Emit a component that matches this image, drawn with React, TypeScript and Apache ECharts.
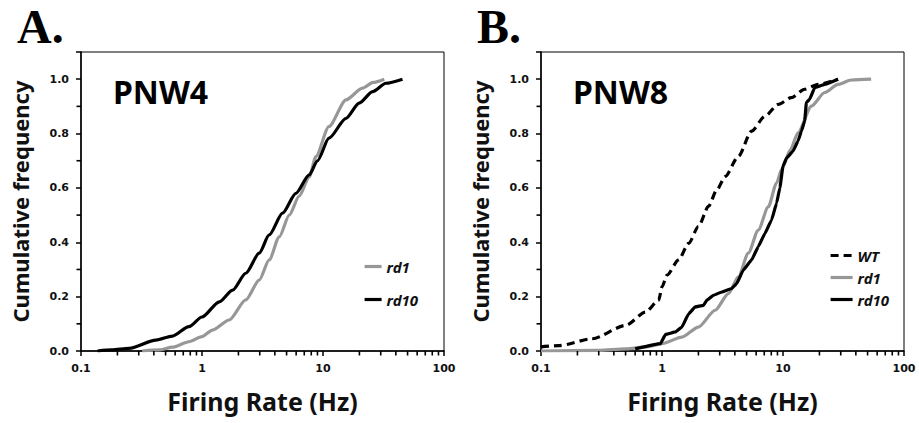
import React, { useEffect, useRef } from "react";
import * as echarts from "echarts";

// ---- Data ----
// Panel A: PNW4
const aRd1Rate = [0.32, 0.45, 0.57, 0.78, 1.0, 1.22, 1.68, 2.3, 2.97, 3.59, 4.35, 5.26, 6.35, 7.69, 8.74, 11.2, 15.5, 21.2, 26, 32.1];
const aRd1Cum = [0, 0.004, 0.014, 0.034, 0.053, 0.077, 0.114, 0.188, 0.261, 0.335, 0.42, 0.5, 0.57, 0.64, 0.715, 0.826, 0.924, 0.967, 0.988, 1.0];
const aRd10Rate = [0.137, 0.18, 0.25, 0.416, 0.57, 0.78, 1.0, 1.39, 1.79, 2.3, 2.97, 3.59, 4.63, 5.97, 7.69, 9.0, 11.2, 15.5, 19.9, 25.7, 33.1, 45.4];
const aRd10Cum = [0, 0.004, 0.01, 0.04, 0.055, 0.09, 0.125, 0.181, 0.224, 0.286, 0.36, 0.427, 0.507, 0.58, 0.648, 0.7, 0.783, 0.856, 0.912, 0.954, 0.985, 1.0];

// Panel B: PNW8
const bWtRate = [0.1, 0.141, 0.265, 0.5, 0.73, 0.94, 1.0, 1.1, 1.37, 1.66, 2.0, 2.42, 2.84, 3.33, 4.28, 5.5, 7.1, 9.13, 11.7, 15.1, 19.5, 28.5];
const bWtCum = [0.015, 0.02, 0.045, 0.094, 0.143, 0.187, 0.236, 0.279, 0.335, 0.396, 0.458, 0.532, 0.593, 0.642, 0.716, 0.809, 0.864, 0.907, 0.932, 0.963, 0.981, 1.0];
const bRd1Rate = [0.1, 0.3, 0.5, 0.75, 1.0, 1.46, 2.0, 2.75, 3.54, 4.28, 5.17, 6.25, 7.55, 8.85, 9.72, 11.5, 13.3, 17.2, 22.1, 28.5, 36.6, 53.5];
const bRd1Cum = [0, 0.002, 0.008, 0.015, 0.027, 0.051, 0.088, 0.15, 0.211, 0.273, 0.36, 0.445, 0.53, 0.618, 0.667, 0.74, 0.803, 0.901, 0.951, 0.981, 0.997, 1.0];
const bRd10Rate = [0.6, 0.97, 1.07, 1.29, 1.46, 1.66, 1.88, 2.2, 2.35, 2.66, 3.12, 3.77, 4.14, 4.7, 5.5, 6.25, 7.1, 8.04, 8.85, 9.42, 10, 10.7, 12.1, 13.3, 14.2, 15.1, 15.6, 16.6, 18.3, 22.1, 28.5];
const bRd10Cum = [0.008, 0.027, 0.061, 0.07, 0.088, 0.137, 0.162, 0.168, 0.187, 0.205, 0.217, 0.23, 0.248, 0.298, 0.335, 0.384, 0.433, 0.482, 0.544, 0.6, 0.68, 0.71, 0.735, 0.772, 0.809, 0.846, 0.914, 0.926, 0.969, 0.981, 1.0];

// Axis ticks
const xMinorTicks = [0.2, 0.3, 0.4, 0.5, 0.6, 0.7, 0.8, 0.9, 2, 3, 4, 5, 6, 7, 8, 9, 20, 30, 40, 50, 60, 70, 80, 90];
const yMinorTicks = [0.1, 0.3, 0.5, 0.7, 0.9];

const panelLetters = ["A.", "B."];
const panelTitles = ["PNW4", "PNW8"];
const seriesNames = ["WT", "rd1", "rd10"];

const GRAY = "#979797";
const SANS = "'Noto Sans', sans-serif";

const zip = (xs: number[], ys: number[]) => xs.map((x, i) => [x, ys[i]]);

function minorTickSeries(idx: number, dir: "x" | "y") {
  const data = dir === "x" ? xMinorTicks.map((v) => [v, 0]) : yMinorTicks.map((v) => [0.1, v]);
  return {
    type: "scatter",
    name: "ticks" + idx + dir,
    xAxisIndex: idx,
    yAxisIndex: idx,
    silent: true,
    clip: false,
    z: 5,
    data,
    symbol: "rect",
    symbolSize: dir === "x" ? [1.6, 4.5] : [4.5, 1.6],
    symbolOffset: dir === "x" ? [0, 2.25] : [-2.25, 0],
    itemStyle: { color: "#000", opacity: 1 },
  };
}

function xAxisFor(idx: number) {
  return {
    type: "log",
    gridIndex: idx,
    logBase: 10,
    min: 0.1,
    max: 100,
    name: "Firing Rate (Hz)",
    nameLocation: "middle",
    nameGap: 37,
    nameTextStyle: { fontFamily: SANS, fontWeight: "bold", fontSize: 25, color: "#111" },
    axisLine: { show: true, lineStyle: { color: "#000", width: 1.5 } },
    axisTick: { show: true, length: 5, lineStyle: { color: "#000", width: 1.5 } },
    minorTick: { show: false },
    splitLine: { show: false },
    axisLabel: {
      margin: 12,
      fontFamily: "'DejaVu Sans', sans-serif",
      fontWeight: "bold",
      fontSize: 11,
      color: "#111",
      formatter: (v: number) => String(+Number(v).toPrecision(3)),
    },
  };
}

function yAxisFor(idx: number) {
  return {
    type: "value",
    gridIndex: idx,
    min: 0,
    max: 1.1,
    interval: 0.2,
    name: "Cumulative frequency",
    nameLocation: "middle",
    nameGap: 50,
    nameTextStyle: { fontFamily: SANS, fontWeight: "bold", fontSize: 22, color: "#111" },
    axisLine: { show: true, lineStyle: { color: "#000", width: 1.5 } },
    axisTick: { show: true, length: 5, lineStyle: { color: "#000", width: 1.5 } },
    splitLine: { show: false },
    axisLabel: {
      margin: 12,
      fontFamily: "'DejaVu Sans', sans-serif",
      fontWeight: "bold",
      fontSize: 11,
      color: "#111",
      formatter: (v: number) => (v > 1.05 ? "" : v.toFixed(1)),
    },
  };
}

function lineSeries(name: string, idx: number, data: number[][], color: string, dashed = false, smooth = 0.25) {
  return {
    type: "line",
    name,
    xAxisIndex: idx,
    yAxisIndex: idx,
    data,
    symbol: "none",
    showSymbol: false,
    smooth,
    smoothMonotone: "x",
    z: 3,
    lineStyle: { color, width: 3.2, type: dashed ? [8, 5] : "solid" },
    itemStyle: { color },
  };
}

export default function App() {
  const ref = useRef<HTMLDivElement>(null);
  useEffect(() => {
    if (!ref.current) return;
    const chart = echarts.init(ref.current, null, { renderer: "svg" });
    const legendText = { fontFamily: SANS, fontWeight: "bold", fontStyle: "italic", fontSize: 15, color: "#111" };
    const letterStyle = { fontFamily: "'Liberation Serif', serif", fontWeight: "bold", fontSize: 48, color: "#000" };
    const titleStyle = { fontFamily: SANS, fontWeight: "bold", fontSize: 32, color: "#000" };
    chart.setOption({
      animation: false,
      backgroundColor: "#fff",
      grid: [
        { left: 81, right: 475, top: 52, bottom: 72, show: true, borderColor: "#000", borderWidth: 1 },
        { left: 541, right: 15, top: 52, bottom: 72, show: true, borderColor: "#000", borderWidth: 1 },
      ],
      title: [
        { text: panelLetters[0], left: 12, top: -3, textStyle: letterStyle },
        { text: panelLetters[1], left: 472, top: -3, textStyle: letterStyle },
        { text: panelTitles[0], left: 108, top: 70, textStyle: titleStyle },
        { text: panelTitles[1], left: 568, top: 70, textStyle: titleStyle },
      ],
      legend: [
        {
          data: [seriesNames[1], seriesNames[2]],
          orient: "vertical",
          left: 358,
          top: 254,
          itemWidth: 17,
          itemHeight: 14,
          itemGap: 18,
          selectedMode: false,
          itemStyle: { opacity: 0 },
          lineStyle: { width: 3.2 },
          textStyle: legendText,
        },
        {
          data: [seriesNames[0], seriesNames[1], seriesNames[2]],
          orient: "vertical",
          left: 824,
          top: 243,
          itemWidth: 22,
          itemHeight: 14,
          itemGap: 7,
          selectedMode: false,
          itemStyle: { opacity: 0 },
          lineStyle: { width: 3.2 },
          textStyle: legendText,
        },
      ],
      xAxis: [xAxisFor(0), xAxisFor(1)],
      yAxis: [yAxisFor(0), yAxisFor(1)],
      series: [
        lineSeries(seriesNames[1], 0, zip(aRd1Rate, aRd1Cum), GRAY),
        lineSeries(seriesNames[2], 0, zip(aRd10Rate, aRd10Cum), "#000"),
        lineSeries(seriesNames[0], 1, zip(bWtRate, bWtCum), "#000", true),
        lineSeries(seriesNames[1], 1, zip(bRd1Rate, bRd1Cum), GRAY),
        lineSeries(seriesNames[2], 1, zip(bRd10Rate, bRd10Cum), "#000", false, 0.1),
        minorTickSeries(0, "x"),
        minorTickSeries(0, "y"),
        minorTickSeries(1, "x"),
        minorTickSeries(1, "y"),
      ],
    });
    return () => chart.dispose();
  }, []);
  return <div ref={ref} style={{ position: "absolute", left: 0, top: 0, width: 919, height: 423 }} />;
}
